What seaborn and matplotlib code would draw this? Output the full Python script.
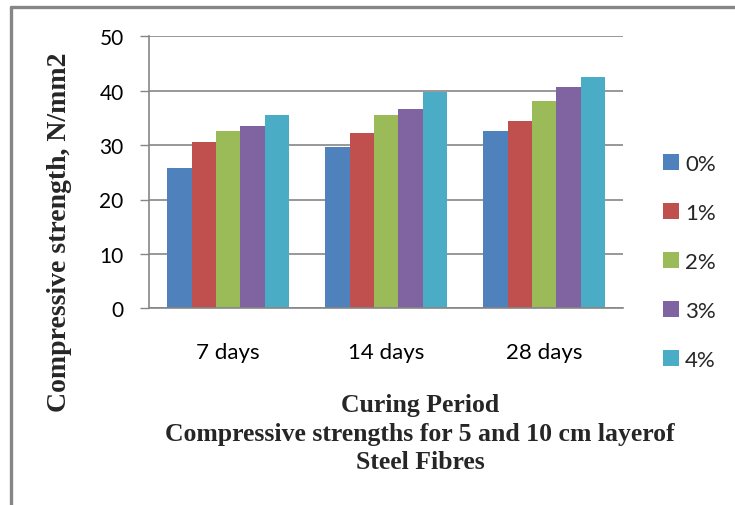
import numpy as np
import pandas as pd
import matplotlib
matplotlib.use("Agg")
import matplotlib.pyplot as plt
import seaborn as sns
from matplotlib.lines import Line2D

# ---- data ----
periods = ["7 days", "14 days", "28 days"]
fibre_pct = ["0%", "1%", "2%", "3%", "4%"]
s0 = [25.8, 29.6, 32.6]
s1 = [30.6, 32.2, 34.4]
s2 = [32.6, 35.5, 38.1]
s3 = [33.5, 36.6, 40.7]
s4 = [35.5, 39.8, 42.5]
yticks = [0, 10, 20, 30, 40, 50]

series = [s0, s1, s2, s3, s4]
rows = []
for pct, vals in zip(fibre_pct, series):
    for per, v in zip(periods, vals):
        rows.append({"period": per, "fibre": pct, "value": v})
df = pd.DataFrame(rows)

colors = ["#4F81BD", "#C0504D", "#9BBB59", "#8064A2", "#4BACC6"]
grey = "#868686"

sns.set_theme(style="white")
plt.rcParams["font.family"] = ["Lato", "DejaVu Sans"]

fig = plt.figure(figsize=(7.35, 5.06), dpi=100)
ax = fig.add_axes([149.3 / 735, 1 - 309.3 / 506, (623 - 149.3) / 735, (309.3 - 37.3) / 506])

sns.barplot(data=df, x="period", y="value", hue="fibre", order=periods,
            hue_order=fibre_pct, palette=colors, width=0.77, gap=0,
            saturation=1, ax=ax, legend=True, edgecolor="none", linewidth=0)

ax.set_xlim(-0.5, 2.5)
ax.set_ylim(0, 50)
ax.set_yticks(yticks)
ax.set_yticklabels([str(t) for t in yticks])
ax.yaxis.grid(True, color=grey, linewidth=1.2)
ax.set_axisbelow(True)
for side in ["top", "right"]:
    ax.spines[side].set_visible(False)
for side in ["left", "bottom"]:
    ax.spines[side].set_color(grey)
    ax.spines[side].set_linewidth(1.2)
ax.tick_params(axis="y", which="major", length=6.5, width=1.0, color=grey,
               pad=12, labelsize=15, labelcolor="black", left=True)
ax.tick_params(axis="x", length=0, pad=24, labelsize=16, labelcolor="black")
ax.set_xlabel("")
ax.set_ylabel("")

# legend
handles, labels = ax.get_legend_handles_labels()
ax.legend(handles, labels, loc="upper left", bbox_to_anchor=(663 / 735, 1 - 155 / 506),
          bbox_transform=fig.transFigure, frameon=False, fontsize=16,
          handlelength=0.7, handleheight=0.7, handletextpad=0.3,
          labelspacing=1.3, borderpad=0, borderaxespad=0)

# axis titles
fig.text(60 / 735, 1 - 232 / 506, "Compressive strength, N/mm2", rotation=90,
         ha="center", va="center", fontsize=20, fontweight="bold",
         family=["Liberation Serif", "DejaVu Serif"])
fig.text(420 / 735, 1 - 434 / 506,
         "Curing Period\nCompressive strengths for 5 and 10 cm layerof\nSteel Fibres",
         ha="center", va="center", fontsize=18.5, fontweight="bold",
         family=["Liberation Serif", "DejaVu Serif"], linespacing=1.3)

# chart-area border (top and left)
fig.add_artist(Line2D([10.5 / 735, 1.0], [1 - 7.5 / 506, 1 - 7.5 / 506],
                      transform=fig.transFigure, color=grey, linewidth=2.4))
fig.add_artist(Line2D([10.5 / 735, 10.5 / 735], [0.0, 1 - 7.5 / 506],
                      transform=fig.transFigure, color=grey, linewidth=2.4))

fig.savefig("out.png", dpi=100, facecolor="white")
